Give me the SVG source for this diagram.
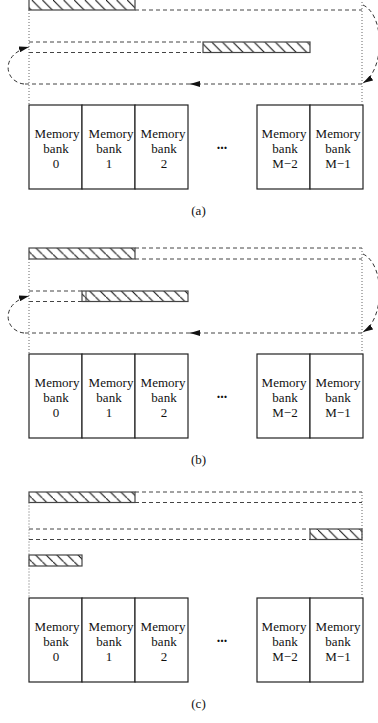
<svg xmlns="http://www.w3.org/2000/svg" width="378" height="723" viewBox="0 0 378 723">
<style>
.dash{fill:none;stroke:#444;stroke-width:1;stroke-dasharray:4 3}
.dot{fill:none;stroke:#666;stroke-width:1;stroke-dasharray:1 2}
.bar{fill:url(#hatch);stroke:#444;stroke-width:1.2}
.bank{fill:#fff;stroke:#222;stroke-width:1.2}
text{font-family:"Liberation Serif","Times New Roman",serif;font-size:13px;fill:#111;text-anchor:middle}
.dots{font-size:14px;font-weight:bold}
.arc{fill:none;stroke:#333;stroke-width:1;stroke-dasharray:4 3}
</style>
<defs>
<pattern id="hatch" patternUnits="userSpaceOnUse" width="10.6" height="10.6">
<path d="M-1,-1 L11.6,11.6" stroke="#111" stroke-width="1.1"/>
</pattern>
<marker id="ah" viewBox="0 0 10 6" refX="10" refY="3" markerWidth="10" markerHeight="6" markerUnits="userSpaceOnUse" orient="auto">
<path d="M0,0 L10,3 L0,6 z" fill="#111"/>
</marker>
</defs>

<!-- Panel (a) -->
<g id="panel-a">
<g id="a-bar1"><rect class="bar" x="29" y="-1" width="106" height="11"/></g>
<g id="a-bar2"><rect class="bar" x="203" y="42" width="107" height="10.5"/></g>
<g id="a-bank0"><rect class="bank" x="29" y="105" width="53" height="84"/><text x="57" y="138">Memory</text><text x="56" y="153">bank</text><text x="56" y="168">0</text></g>
<g id="a-bank1"><rect class="bank" x="82" y="105" width="53" height="84"/><text x="111" y="138">Memory</text><text x="109" y="153">bank</text><text x="109" y="168">1</text></g>
<g id="a-bank2"><rect class="bank" x="135" y="105" width="53" height="84"/><text x="163" y="138">Memory</text><text x="164" y="153">bank</text><text x="164" y="168">2</text></g>
<text class="dots" x="222" y="149">...</text>
<g id="a-bankM2"><rect class="bank" x="257" y="105" width="53" height="84"/><text x="284" y="138">Memory</text><text x="285" y="153">bank</text><text x="285" y="168">M−2</text></g>
<g id="a-bankM1"><rect class="bank" x="310" y="105" width="53" height="84"/><text x="338" y="138">Memory</text><text x="338" y="153">bank</text><text x="338" y="168">M−1</text></g>
<text x="198.5" y="215">(a)</text>
</g>
<g id="a-connectors">
<path class="dash" d="M135,10 H362"/>
<path class="dash" d="M29,42 H203 M29,52.5 H203"/>
<path class="dot" d="M29,10 V105 M362,-1 V105"/>
<path class="dash" d="M362,84 H190" marker-end="url(#ah)"/>
<path class="dash" d="M190,84 H25"/>
<path class="arc" d="M24,84 C4,82 0,54 29,47" marker-end="url(#ah)"/>
<path class="arc" d="M363,5 C385,15 385,70 363,83" marker-end="url(#ah)"/>
</g>

<!-- Panel (b) -->
<g id="panel-b">
<g id="b-bar1"><rect class="bar" x="29" y="248" width="106" height="11"/></g>
<g id="b-bar2"><rect class="bar" x="82" y="291" width="106" height="10.5"/><path d="M86,291 V301.5" stroke="#444" stroke-width="1"/></g>
<g id="b-bank0"><rect class="bank" x="29" y="354" width="53" height="84"/><text x="57" y="387">Memory</text><text x="56" y="402">bank</text><text x="56" y="417">0</text></g>
<g id="b-bank1"><rect class="bank" x="82" y="354" width="53" height="84"/><text x="111" y="387">Memory</text><text x="109" y="402">bank</text><text x="109" y="417">1</text></g>
<g id="b-bank2"><rect class="bank" x="135" y="354" width="53" height="84"/><text x="163" y="387">Memory</text><text x="164" y="402">bank</text><text x="164" y="417">2</text></g>
<text class="dots" x="222" y="398">...</text>
<g id="b-bankM2"><rect class="bank" x="257" y="354" width="53" height="84"/><text x="284" y="387">Memory</text><text x="285" y="402">bank</text><text x="285" y="417">M−2</text></g>
<g id="b-bankM1"><rect class="bank" x="310" y="354" width="53" height="84"/><text x="338" y="387">Memory</text><text x="338" y="402">bank</text><text x="338" y="417">M−1</text></g>
<text x="198.5" y="464">(b)</text>
</g>
<g id="b-connectors">
<path class="dash" d="M135,248 H362 M135,259 H362"/>
<path class="dash" d="M29,291 H82 M29,301.5 H82"/>
<path class="dot" d="M29,259 V354 M362,248 V354"/>
<path class="dash" d="M362,333 H190" marker-end="url(#ah)"/>
<path class="dash" d="M190,333 H25"/>
<path class="arc" d="M24,333 C4,331 0,303 29,296" marker-end="url(#ah)"/>
<path class="arc" d="M363,254 C385,264 385,319 363,332" marker-end="url(#ah)"/>
</g>

<!-- Panel (c) -->
<g id="panel-c">
<g id="c-bar1"><rect class="bar" x="29" y="492" width="106" height="10.5"/></g>
<g id="c-bar2"><rect class="bar" x="310" y="529" width="52" height="10.5"/></g>
<g id="c-bar3"><rect class="bar" x="29" y="555" width="53" height="11"/></g>
<g id="c-bank0"><rect class="bank" x="29" y="598" width="53" height="84"/><text x="57" y="631">Memory</text><text x="56" y="646">bank</text><text x="56" y="661">0</text></g>
<g id="c-bank1"><rect class="bank" x="82" y="598" width="53" height="84"/><text x="111" y="631">Memory</text><text x="109" y="646">bank</text><text x="109" y="661">1</text></g>
<g id="c-bank2"><rect class="bank" x="135" y="598" width="53" height="84"/><text x="163" y="631">Memory</text><text x="164" y="646">bank</text><text x="164" y="661">2</text></g>
<text class="dots" x="222" y="642">...</text>
<g id="c-bankM2"><rect class="bank" x="257" y="598" width="53" height="84"/><text x="284" y="631">Memory</text><text x="285" y="646">bank</text><text x="285" y="661">M−2</text></g>
<g id="c-bankM1"><rect class="bank" x="310" y="598" width="53" height="84"/><text x="338" y="631">Memory</text><text x="338" y="646">bank</text><text x="338" y="661">M−1</text></g>
<text x="198.5" y="708">(c)</text>
</g>
<g id="c-connectors">
<path class="dash" d="M135,492 H362 M135,502.5 H362"/>
<path class="dash" d="M29,529 H310 M29,539.5 H310"/>
<path class="dot" d="M29,502.5 V598 M362,492 V598"/>
</g>
</svg>
